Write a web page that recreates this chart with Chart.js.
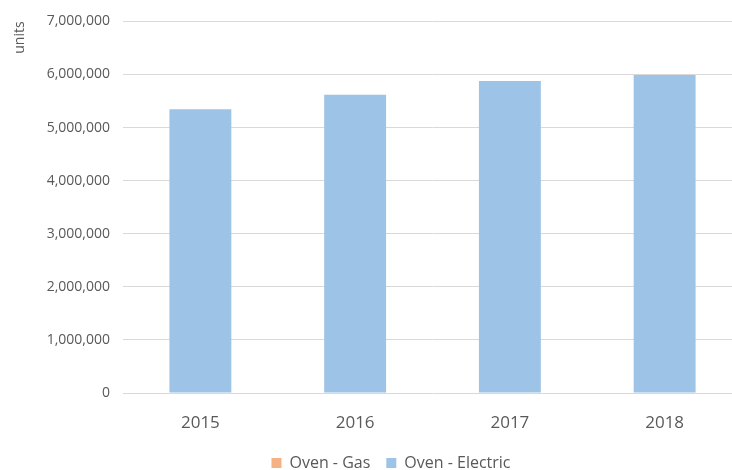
<!DOCTYPE html>
<html>
<head>
<meta charset="utf-8">
<script src="https://cdn.jsdelivr.net/npm/chart.js@4.4.0/dist/chart.umd.min.js"></script>
<style>
  html, body { margin: 0; padding: 0; background: #fff; overflow: hidden; }
  #wrap { width: 746px; height: 481px; }
</style>
</head>
<body>
<div id="wrap"><canvas id="chartContainer" width="746" height="481"></canvas></div>
<script>
var years = ['2015', '2016', '2017', '2018'];
var ovenGas = [0, 0, 0, 0];
var ovenElectric = [5345000, 5620000, 5875000, 5990000];
var yTicks = [0, 1000000, 2000000, 3000000, 4000000, 5000000, 6000000, 7000000];

// legend sits a bit right of centre in the original
var legendShift = {
  id: 'legendShift',
  beforeDraw: function (chart) {
    var lg = chart.legend;
    if (lg && !lg._shifted) {
      var draw = lg.draw.bind(lg);
      lg.draw = function () {
        var c = chart.ctx;
        c.save();
        c.translate(20, 0);
        draw();
        c.restore();
      };
      lg._shifted = true;
    }
  }
};

var ctx = document.getElementById('chartContainer').getContext('2d');
new Chart(ctx, {
  type: 'bar',
  data: {
    labels: years,
    datasets: [{
      label: 'Oven - Gas',
      data: ovenGas,
      backgroundColor: '#f4b183'
    }, {
      label: 'Oven - Electric',
      data: ovenElectric,
      backgroundColor: '#9dc3e6'
    }]
  },
  options: {
    responsive: false,
    animation: false,
    layout: { padding: { top: 18, right: 4, bottom: 0, left: 0 } },
    datasets: { bar: { categoryPercentage: 0.5, barPercentage: 0.8 } },
    plugins: {
      tooltip: { enabled: false },
      legend: {
        position: 'bottom',
        labels: {
          boxWidth: 10, boxHeight: 10, padding: 16,
          color: '#595959',
          font: { family: 'Open Sans', size: 16 }
        }
      }
    },
    scales: {
      x: {
        stacked: true,
        afterFit: function (s) { s.height = 46; },
        grid: { display: false },
        border: { display: false },
        ticks: { color: '#595959', padding: 12, font: { family: 'Open Sans', size: 17 } }
      },
      y: {
        stacked: true,
        min: 0, max: 7000000,
        afterBuildTicks: function (s) { s.ticks = yTicks.map(function (v) { return { value: v }; }); },
        afterFit: function (s) { s.width = 123; },
        grid: { color: '#d9d9d9', drawTicks: false },
        border: { display: false },
        ticks: {
          color: '#595959', padding: 13,
          font: { family: 'Open Sans', size: 14 },
          callback: function (v) { return v.toLocaleString('en-US'); }
        },
        title: {
          display: true, text: 'units', align: 'end',
          color: '#595959', padding: { top: 12, bottom: 0 },
          font: { family: 'Open Sans', size: 14 }
        }
      }
    }
  },
  plugins: [legendShift]
});
</script>
</body>
</html>
